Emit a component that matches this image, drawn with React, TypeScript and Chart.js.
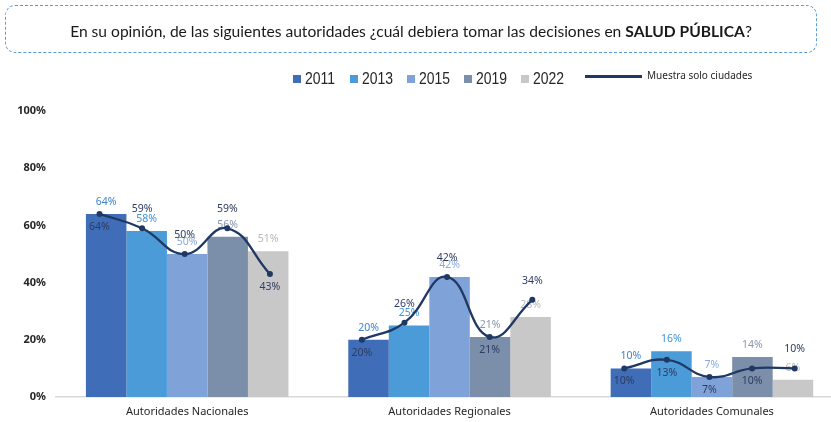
import React, { useEffect, useRef } from 'react';
import { Chart, registerables } from 'chart.js';

Chart.register(...registerables);

// ---------- data ----------
const CATEGORIES = ['Autoridades Nacionales', 'Autoridades Regionales', 'Autoridades Comunales'];
const YEARS = ['2011', '2013', '2015', '2019', '2022'];
const V2011 = [64, 20, 10];
const V2013 = [58, 25, 16];
const V2015 = [50, 42, 7];
const V2019 = [56, 21, 14];
const V2022 = [51, 28, 6];
const LINE_LABEL = 'Muestra solo ciudades';
const CIUDADES_NAC = [64, 59, 50, 59, 43];
const CIUDADES_REG = [20, 26, 42, 21, 34];
const CIUDADES_COM = [10, 13, 7, 10, 10];
const Y_MIN = 0;
const Y_MAX = 100;
const Y_STEP = 20;

// ---------- style ----------
const BAR_COLORS = ['#3f6db7', '#4b9bd8', '#7fa3d8', '#7b8faa', '#c8c8c8'];
const LABEL_COLORS = ['#3d84c8', '#3f93d6', '#8aabe0', '#8797ad', '#b8b8b8'];
const LINE_COLOR = '#1f3864';
const LINE_LABEL_COLOR = '#2e3b63';
const LINE_LABEL_POS = [
  ['below', 'above', 'above', 'above', 'below'],
  ['below', 'above', 'above', 'below', 'above'],
  ['below', 'below', 'below', 'below', 'above'],
];
const CAT_PCT = 0.772;
const X_MAX = 2.4614;
const LINE_SPREAD = 0.1624;
const LINE_SHIFT = -0.0095;
const FONT = '"Noto Sans", sans-serif';
const LEGEND_LEFT = 293;
const LEGEND_PITCH = 57;
const CANVAS_W = 837;

export default function App() {
  const ref = useRef<HTMLCanvasElement>(null);

  useEffect(() => {
    const canvas = ref.current;
    if (!canvas) return;
    const series = [V2011, V2013, V2015, V2019, V2022];
    const barDatasets: any[] = series.map((vals, i) => ({
      type: 'bar',
      label: YEARS[i],
      data: vals.map((v, g) => ({ x: g, y: v })),
      backgroundColor: BAR_COLORS[i],
      borderWidth: 0,
      categoryPercentage: CAT_PCT,
      barPercentage: 1,
      order: 2,
    }));
    const lineGroups = [CIUDADES_NAC, CIUDADES_REG, CIUDADES_COM];
    const lineData: any[] = [];
    const linePos: (string | null)[] = [];
    lineGroups.forEach((vals, g) => {
      vals.forEach((v, i) => {
        lineData.push({ x: g + (i - 2) * LINE_SPREAD + LINE_SHIFT, y: v });
        linePos.push(LINE_LABEL_POS[g][i]);
      });
      if (g < lineGroups.length - 1) {
        lineData.push({ x: g + 0.5, y: null });
        linePos.push(null);
      }
    });
    const lineDataset: any = {
      type: 'line',
      label: LINE_LABEL,
      data: lineData,
      borderColor: LINE_COLOR,
      borderWidth: 2.3,
      backgroundColor: LINE_COLOR,
      pointBackgroundColor: LINE_COLOR,
      pointBorderColor: LINE_COLOR,
      pointBorderWidth: 0,
      pointRadius: 3,
      tension: 0.45,
      spanGaps: false,
      fill: false,
      order: 1,
    };

    const labelPlugin = {
      id: 'valueLabels',
      afterDatasetDraw(chart: any, args: any) {
        const ds = chart.data.datasets[args.index];
        if (ds.type !== 'bar') return;
        const c = chart.ctx;
        c.save();
        c.font = `10.5px ${FONT}`;
        c.fillStyle = LABEL_COLORS[args.index];
        c.textAlign = 'center';
        c.textBaseline = 'middle';
        args.meta.data.forEach((el: any, j: number) => {
          c.fillText(ds.data[j].y + '%', el.x, el.y - 12);
        });
        c.restore();
      },
      afterDatasetsDraw(chart: any) {
        const idx = chart.data.datasets.findIndex((d: any) => d.type === 'line');
        const meta = chart.getDatasetMeta(idx);
        const ds = chart.data.datasets[idx];
        const c = chart.ctx;
        c.save();
        c.font = `10.5px ${FONT}`;
        c.fillStyle = LINE_LABEL_COLOR;
        c.textAlign = 'center';
        c.textBaseline = 'middle';
        meta.data.forEach((el: any, j: number) => {
          const v = ds.data[j].y;
          if (v === null || v === undefined) return;
          const dy = linePos[j] === 'above' ? -19 : 13;
          c.fillText(v + '%', el.x, el.y + dy);
        });
        c.restore();
      },
    };

    const chart = new Chart(canvas, {
      type: 'bar',
      data: { datasets: [...barDatasets, lineDataset] },
      options: {
        responsive: false,
        animation: false,
        layout: { padding: { top: 111, left: 0, right: 0, bottom: 0 } },
        plugins: { legend: { display: false }, tooltip: { enabled: false } },
        scales: {
          x: {
            type: 'linear',
            min: -0.5,
            max: X_MAX,
            offset: false,
            grid: { display: false, drawTicks: false },
            border: { display: true, color: '#d9d9d9', width: 1.5 },
            ticks: {
              padding: 8,
              color: '#262626',
              font: { size: 11, family: FONT },
              maxRotation: 0,
              autoSkip: false,
              callback: (v: any) => CATEGORIES[v] ?? '',
            },
            afterBuildTicks: (s: any) => {
              s.ticks = CATEGORIES.map((_, i) => ({ value: i }));
            },
            afterFit: (s: any) => {
              s.height = 25;
            },
          },
          y: {
            min: Y_MIN,
            max: Y_MAX,
            grid: { display: false, drawTicks: false },
            border: { display: false },
            ticks: {
              stepSize: Y_STEP,
              padding: 10,
              color: '#262626',
              font: { size: 11, weight: 'bold', family: FONT },
              callback: (v: any) => v + '%',
            },
            afterFit: (s: any) => {
              s.width = 56;
            },
          },
        },
      } as any,
      plugins: [labelPlugin],
    } as any);
    return () => chart.destroy();
  }, []);

  return (
    <div style={{ position: 'relative', width: 831, height: 422, background: '#fff', overflow: 'hidden' }}>
      <style>{'html,body{margin:0;padding:0;overflow:hidden;background:#fff}'}</style>
      <canvas ref={ref} width={CANVAS_W} height={422} style={{ position: 'absolute', left: 0, top: 0 }} />
      <div
        style={{
          position: 'absolute',
          left: 5,
          top: 5,
          width: 812,
          height: 48,
          boxSizing: 'border-box',
          border: '1.5px dashed #5b9bd5',
          borderRadius: 10,
          display: 'flex',
          alignItems: 'center',
          justifyContent: 'center',
          paddingTop: 3,
          font: '15.6px Lato, sans-serif',
          color: '#1a1a1a',
          whiteSpace: 'nowrap',
        }}
      >
        <span>
          En su opinión, de las siguientes autoridades ¿cuál debiera tomar las decisiones en{' '}
          <b>SALUD PÚBLICA</b>?
        </span>
      </div>
      {YEARS.map((y, i) => (
        <div
          key={y}
          style={{
            position: 'absolute',
            left: LEGEND_LEFT + i * LEGEND_PITCH,
            top: 70,
            height: 18,
            display: 'flex',
            alignItems: 'center',
            whiteSpace: 'nowrap',
          }}
        >
          <span style={{ display: 'inline-block', width: 8, height: 8, background: BAR_COLORS[i], marginRight: 4 }} />
          <span
            style={{
              display: 'inline-block',
              font: '17px "Liberation Sans", Arial, sans-serif',
              color: '#262626',
              lineHeight: '18px',
              transform: 'scaleX(0.82)',
              transformOrigin: 'left center',
            }}
          >
            {y}
          </span>
        </div>
      ))}
      <div style={{ position: 'absolute', left: 585, top: 74.5, width: 57, height: 3, background: LINE_COLOR }} />
      <div
        style={{
          position: 'absolute',
          left: 647,
          top: 68,
          height: 15,
          lineHeight: '15px',
          font: '10px "Noto Sans", sans-serif',
          color: '#262626',
          whiteSpace: 'nowrap',
        }}
      >
        {LINE_LABEL}
      </div>
    </div>
  );
}
